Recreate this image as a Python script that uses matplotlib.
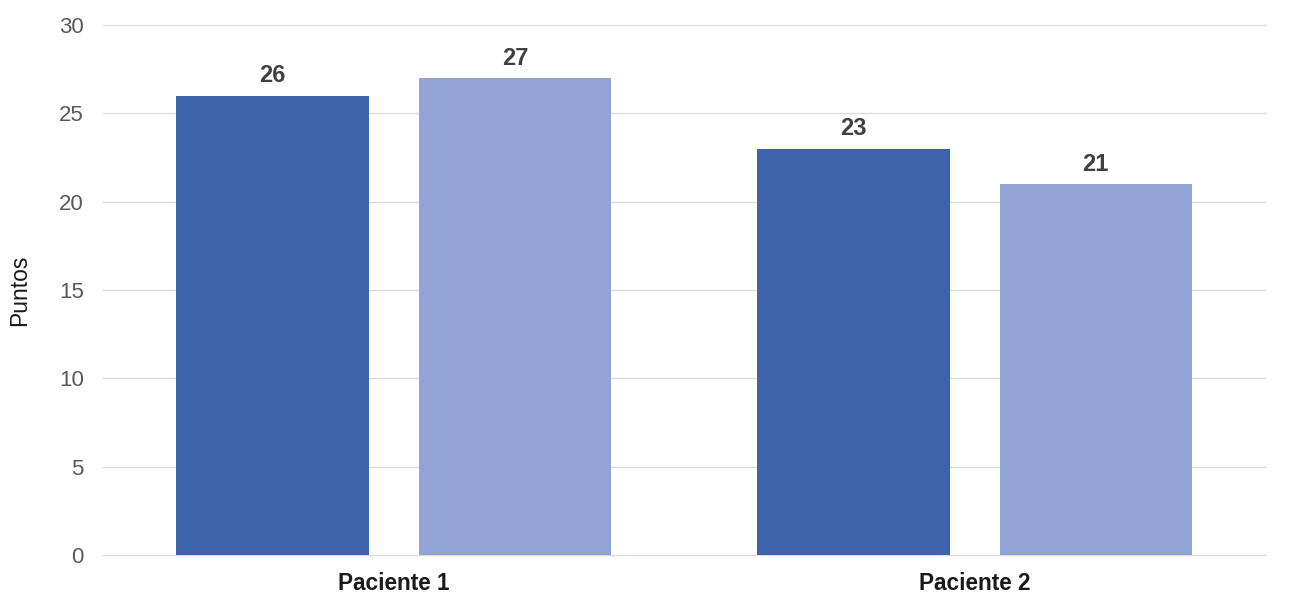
import numpy as np
import matplotlib.pyplot as plt

plt.rcParams['font.family'] = ['Liberation Sans', 'DejaVu Sans']

# Puntos por paciente en las dos evaluaciones
pacientes = ['Paciente 1', 'Paciente 2']
serie_1 = [26, 23]
serie_2 = [27, 21]
yticks = [0, 5, 10, 15, 20, 25, 30]

color_1 = '#3D64AB'
color_2 = '#8FA3D4'

fig = plt.figure(figsize=(13.09, 5.95), dpi=100)
ax = fig.add_axes([0.0789, 0.0672, 0.8876, 0.8908])

x = np.arange(len(pacientes))
ancho = 0.331
desp = 0.2085

b1 = ax.bar(x - desp, serie_1, ancho, color=color_1, zorder=3)
b2 = ax.bar(x + desp, serie_2, ancho, color=color_2, zorder=3)

for barras in (b1, b2):
    ax.bar_label(barras, padding=6, fontsize=17, fontweight='bold', color='#404040')

ax.set_xlim(-0.5, 1.5)
ax.set_ylim(0, 30)
ax.set_yticks(yticks)
ax.set_xticks(x)
ax.set_xticklabels(pacientes, fontsize=16.3, fontweight='bold', color='#1a1a1a')
ax.tick_params(axis='y', labelsize=16, colors='#595959', length=0, pad=14)
ax.tick_params(axis='x', length=0, pad=12)
ax.yaxis.grid(True, color='#dcdcdc', linewidth=1, zorder=0)
for linea in ax.get_ygridlines():
    linea.set_clip_on(False)
for s in ax.spines.values():
    s.set_visible(False)
ax.set_ylabel('Puntos', fontsize=16.5, color='#1a1a1a', labelpad=20)

fig.savefig('out.png', dpi=100, facecolor='white')
